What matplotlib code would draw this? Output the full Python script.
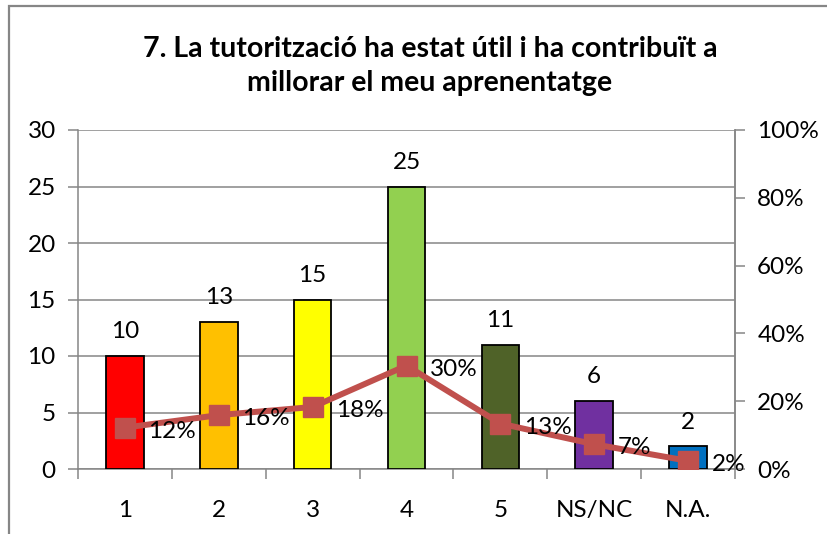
import matplotlib
matplotlib.use("Agg")
import matplotlib.pyplot as plt
from matplotlib.patches import Rectangle
from matplotlib.ticker import FuncFormatter, FixedLocator

plt.rcParams['font.family'] = ['Lato', 'DejaVu Sans']

categories = ["1", "2", "3", "4", "5", "NS/NC", "N.A."]
counts = [10, 13, 15, 25, 11, 6, 2]
shares = [0.122, 0.159, 0.183, 0.305, 0.134, 0.073, 0.024]
share_labels = ["12%", "16%", "18%", "30%", "13%", "7%", "2%"]
bar_colors = ["#FF0000", "#FFC000", "#FFFF00", "#92D050", "#4F6228", "#7030A0", "#0070C0"]
title = "7. La tutorització ha estat útil i ha contribuït a\nmillorar el meu aprenentatge"

W, H = 827, 534
fig = plt.figure(figsize=(W / 100, H / 100), dpi=100)
fig.patch.set_facecolor("white")

# outer chart frame
fig.add_artist(Rectangle((8.5 / W, -0.1), 1.2, 1.1 - 6.5 / H, transform=fig.transFigure,
                         fill=False, edgecolor="#868686", lw=1.6))

ax = fig.add_axes([78 / W, 1 - 469 / H, (735 - 78) / W, (469 - 130) / H])
grid_c = "#868686"
FS = 17.5
x = list(range(len(categories)))

ax.bar(x, counts, width=0.4, color=bar_colors, edgecolor="black", linewidth=1.3, zorder=3)
for xi, v in zip(x, counts):
    ax.annotate(str(v), (xi, v), xytext=(0, 10), textcoords="offset points",
                ha="center", va="bottom", fontsize=FS, color="black")

ax.set_xlim(-0.5, len(categories) - 0.5)
ax.set_ylim(0, 30)
ax.set_yticks(range(0, 31, 5))
ax.yaxis.grid(True, color=grid_c, lw=1.1, zorder=0)
ax.set_axisbelow(True)
ax.xaxis.set_major_locator(FixedLocator([i - 0.5 for i in range(len(categories) + 1)]))
ax.xaxis.set_major_formatter(FuncFormatter(lambda v, p: ""))
ax.xaxis.set_minor_locator(FixedLocator(x))
ax.set_xticklabels(categories, minor=True)
ax.tick_params(axis="x", which="major", length=7, width=1.1, color=grid_c, direction="out")
ax.tick_params(axis="x", which="minor", length=0, pad=22, labelsize=FS)
ax.tick_params(axis="y", length=7, width=1.1, color=grid_c, labelsize=FS, pad=9)
ax.spines["top"].set_visible(False)
for s in ["left", "bottom", "right"]:
    ax.spines[s].set_color(grid_c)
    ax.spines[s].set_linewidth(1.1)

ax2 = ax.twinx()
ax2.set_ylim(0, 1)
ax2.set_yticks([0, 0.2, 0.4, 0.6, 0.8, 1.0])
ax2.yaxis.set_major_formatter(FuncFormatter(lambda v, p: f"{v*100:.0f}%"))
ax2.tick_params(axis="y", length=7, width=1.1, color=grid_c, labelsize=FS, pad=9)
for s in ["top", "left", "bottom"]:
    ax2.spines[s].set_visible(False)
ax2.spines["right"].set_color(grid_c)
ax2.spines["right"].set_linewidth(1.1)
ax2.plot(x, shares, color="#C0504D", lw=4.3, marker="s", markersize=14.5,
         markerfacecolor="#C0504D", markeredgecolor="#C0504D", zorder=4)
for xi, v, lab in zip(x, shares, share_labels):
    ax2.annotate(lab, (xi, v), xytext=(17, -2.5), textcoords="offset points",
                 ha="left", va="center", fontsize=FS, color="black", zorder=6)

fig.text(430 / W, 1 - 66 / H, title, ha="center", va="center", fontsize=20.5,
         fontweight="bold", linespacing=1.4)

fig.savefig("out.png", dpi=100)
